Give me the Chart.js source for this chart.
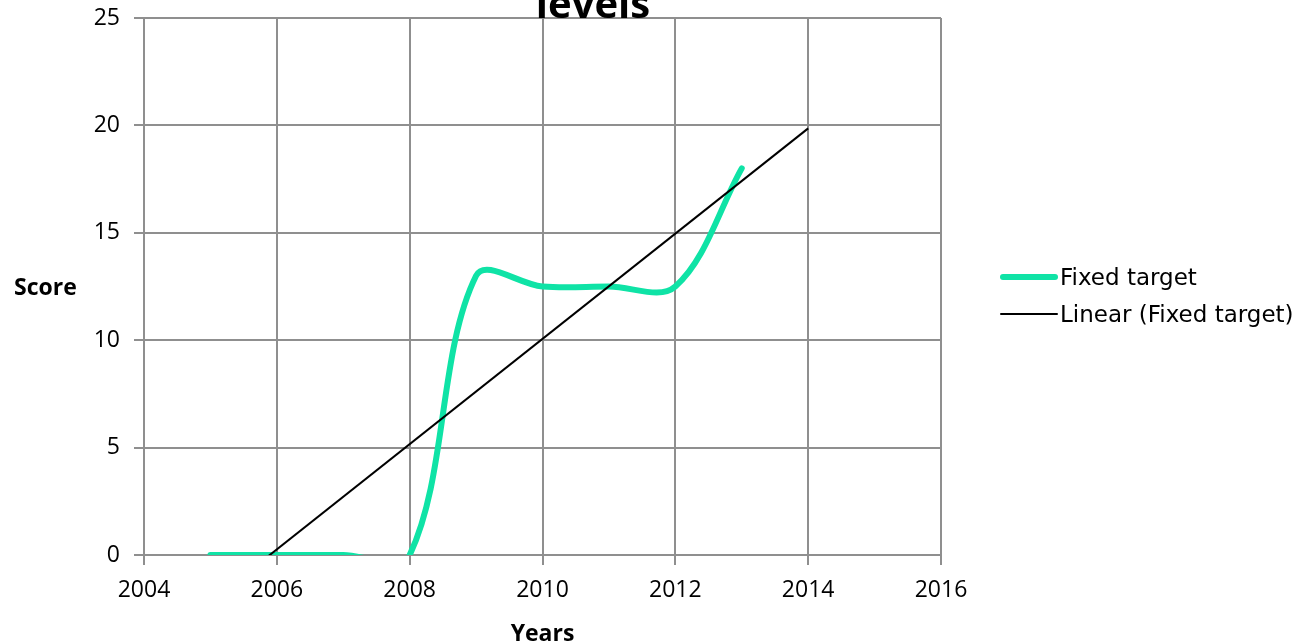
<!DOCTYPE html>
<html>
<head>
<meta charset="utf-8">
<title>Fixed target levels</title>
<script src="https://cdn.jsdelivr.net/npm/chart.js@4.4.1/dist/chart.umd.min.js"></script>
<style>
  html, body { margin: 0; padding: 0; background: #fff; overflow: hidden; }
  .wrap { position: relative; width: 1305px; height: 644px; overflow: hidden; }
  canvas { display: block; }
  .chart-title {
    position: absolute; left: 593px; top: -17px; transform: translateX(-50%);
    font: bold 40px 'Open Sans', sans-serif; line-height: 1; white-space: nowrap; color: #000;
  }
  .y-title {
    position: absolute; left: 14px; top: 275px;
    font: bold 23px 'Open Sans', sans-serif; line-height: 1; color: #000;
  }
  .legend { position: absolute; left: 1000px; top: 258px; }
  .legend-item { display: flex; align-items: center; height: 37px; }
  .legend-line { display: inline-block; width: 58px; border-radius: 3px; }
  .legend-text { margin-left: 2px; font: 23px 'DejaVu Sans', sans-serif; color: #000; white-space: nowrap; }
</style>
</head>
<body>
<div class="wrap">
  <canvas id="chart" width="1305" height="644"></canvas>
  <div class="chart-title">levels</div>
  <div class="y-title">Score</div>
  <div class="legend" id="legend"></div>
</div>
<script>
// ─── Data ─────────────────────────────────────────────────────────
const years = [2005, 2006, 2007, 2008, 2009, 2010, 2011, 2012, 2013];
const fixedTarget = [0, 0, 0, 0, 13, 12.5, 12.5, 12.5, 18];
const trendForward = 1; // trendline forecast, in years

const GREEN = '#0fe3a6';
const GRID = '#8f8f8f';

// ─── Least squares trendline ──────────────────────────────────────
function linearFit(xs, ys) {
  const n = xs.length;
  const mx = xs.reduce((s, v) => s + v, 0) / n;
  const my = ys.reduce((s, v) => s + v, 0) / n;
  let sxy = 0, sxx = 0;
  xs.forEach((x, i) => { sxy += (x - mx) * (ys[i] - my); sxx += (x - mx) * (x - mx); });
  const slope = sxy / sxx;
  return x => my + slope * (x - mx);
}

const fit = linearFit(years, fixedTarget);
const trendX = [years[0], years[years.length - 1] + trendForward];
const trendPts = trendX.map(x => ({ x, y: fit(x) }));

// ─── Chart ────────────────────────────────────────────────────────
const ctx = document.getElementById('chart').getContext('2d');
const chart = new Chart(ctx, {
  type: 'line',
  data: {
    datasets: [
      {
        label: 'Fixed target',
        data: years.map((x, i) => ({ x, y: fixedTarget[i] })),
        borderColor: GREEN,
        borderWidth: 6,
        borderCapStyle: 'round',
        tension: 0.35,
        capBezierPoints: false,
        pointRadius: 0,
        order: 1
      },
      {
        label: 'Linear (Fixed target)',
        data: trendPts,
        borderColor: '#000',
        borderWidth: 2,
        tension: 0,
        pointRadius: 0,
        order: 0
      }
    ]
  },
  options: {
    responsive: false,
    animation: false,
    layout: { padding: { top: 18, right: 364, bottom: 0, left: 0 } },
    scales: {
      x: {
        type: 'linear',
        min: 2004, max: 2016,
        ticks: { stepSize: 2, color: '#000', padding: 12, font: { family: 'Open Sans', size: 23 }, callback: v => String(v) },
        grid: { color: GRID, lineWidth: 2, tickLength: 10 },
        border: { color: GRID, width: 2 },
        title: { display: true, text: 'Years', color: '#000', padding: { top: 4, bottom: -4 }, font: { family: 'Open Sans', size: 23, weight: 'bold' } },
        afterFit: s => { s.height = 89; }
      },
      y: {
        min: 0, max: 25,
        ticks: { stepSize: 5, color: '#000', padding: 14, font: { family: 'Open Sans', size: 23 } },
        grid: { color: GRID, lineWidth: 2, tickLength: 10 },
        border: { color: GRID, width: 2 },
        afterFit: s => { s.width = 144; s.paddingTop = 0; s.paddingBottom = 0; }
      }
    },
    plugins: {
      legend: { display: false },
      tooltip: { enabled: false }
    }
  }
});

// ─── Legend ───────────────────────────────────────────────────────
const legendEl = document.getElementById('legend');
chart.data.datasets.forEach(ds => {
  const item = document.createElement('div');
  item.className = 'legend-item';
  item.innerHTML = `<span class="legend-line" style="border-top:${ds.borderWidth}px solid ${ds.borderColor}"></span><span class="legend-text">${ds.label}</span>`;
  legendEl.appendChild(item);
});
</script>
</body>
</html>
